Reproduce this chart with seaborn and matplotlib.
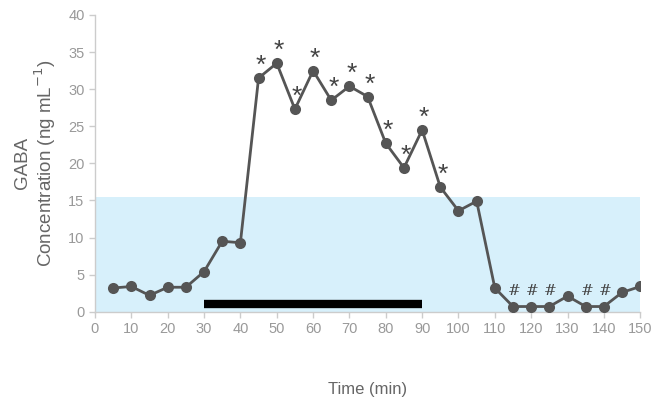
import numpy as np
import pandas as pd
import matplotlib
matplotlib.use("Agg")
import matplotlib.pyplot as plt
import seaborn as sns

time_min = [5, 10, 15, 20, 25, 30, 35, 40, 45, 50, 55, 60, 65, 70, 75,
            80, 85, 90, 95, 100, 105, 110, 115, 120, 125, 130, 135, 140, 145, 150]
gaba = [3.2, 3.4, 2.2, 3.3, 3.3, 5.4, 9.5, 9.3, 31.5, 33.5, 27.3, 32.5, 28.5, 30.4, 29.0,
        22.7, 19.4, 24.5, 16.8, 13.6, 14.9, 3.2, 0.7, 0.7, 0.7, 2.1, 0.7, 0.7, 2.6, 3.4]
star_times = [45, 50, 55, 60, 65, 70, 75, 80, 85, 90, 95]
hash_times = [115, 120, 125, 135, 140]
band_top = 15.5
bar_start, bar_end = 30, 90

df = pd.DataFrame({"time": time_min, "gaba": gaba})

sns.set_style("white")
plt.rcParams["font.family"] = ["Liberation Sans", "DejaVu Sans"]

fig = plt.figure(figsize=(6.69, 4.12), dpi=100)
ax = fig.add_axes([0.142, 0.2434, 0.815, 0.7202])

ax.axhspan(0, band_top, xmin=0, xmax=1, color="#d7f0fb", zorder=0, lw=0)
ax.plot([bar_start, bar_end], [1.1, 1.1], color="black", lw=6, solid_capstyle="butt", zorder=2)

sns.lineplot(data=df, x="time", y="gaba", ax=ax, color="#555555", lw=2,
             marker="o", markersize=8, markeredgewidth=0, zorder=3)

lookup = dict(zip(time_min, gaba))
for t in star_times:
    ax.annotate("*", (t, lookup[t]), xytext=(1.5, 0), textcoords="offset points",
                ha="center", va="bottom", fontsize=19, color="#444444")
for t in hash_times:
    ax.annotate("#", (t, lookup[t]), xytext=(1, 6), textcoords="offset points",
                ha="center", va="bottom", fontsize=11, color="#444444",
                family=["DejaVu Serif"])

ax.set_xlim(0, 150)
ax.set_ylim(0, 40)
ax.set_xticks(np.arange(0, 151, 10))
ax.set_yticks(np.arange(0, 41, 5))
for s in ["top", "right"]:
    ax.spines[s].set_visible(False)
for s in ["left", "bottom"]:
    ax.spines[s].set_color("#cccccc")
    ax.spines[s].set_linewidth(1)
ax.tick_params(axis="both", colors="#cccccc", labelcolor="#999999", labelsize=10.5,
               direction="out", length=4, width=1, left=True, bottom=True)

ax.set_xlabel("Time (min)", fontsize=12, color="#666666", labelpad=33)
ax.set_ylabel("GABA\nConcentration (ng mL$^{-1}$)", fontsize=13.5, color="#666666",
              labelpad=7, linespacing=1.1)

fig.savefig("out.png", dpi=100)
